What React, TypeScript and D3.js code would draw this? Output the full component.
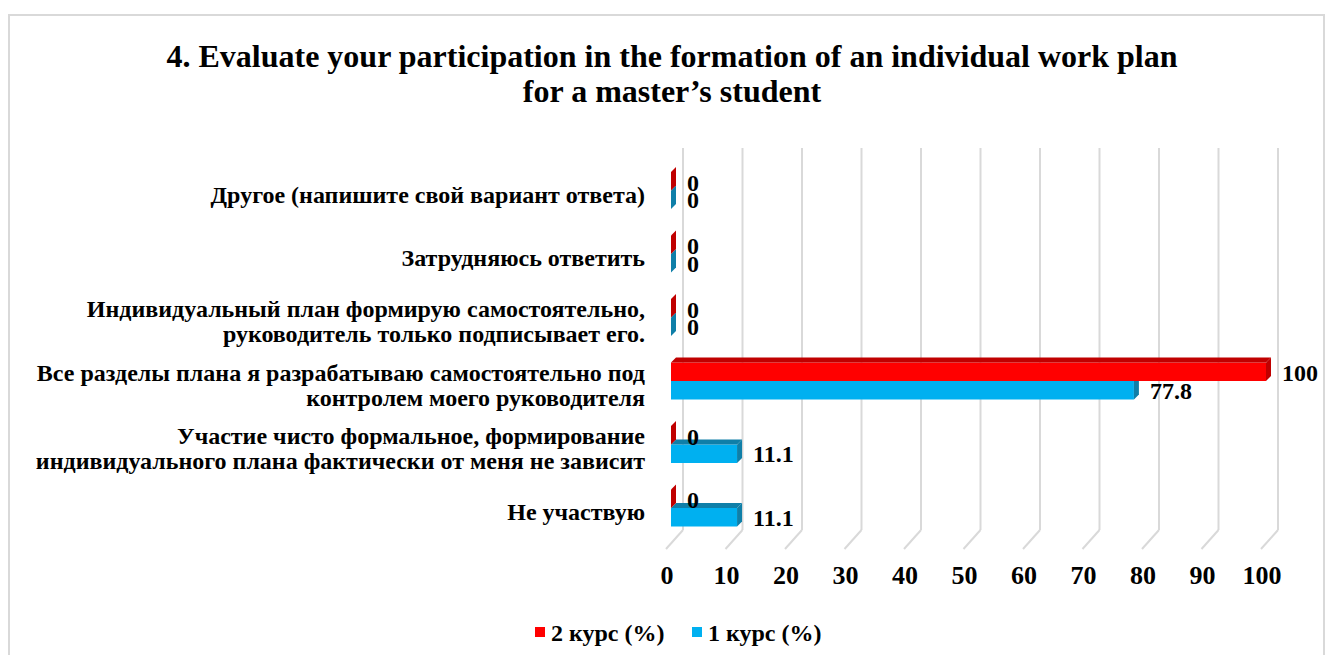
import React from "react";
import * as d3 from "d3";

const categories: string[][] = [
  ["Другое (напишите свой вариант ответа)"],
  ["Затрудняюсь ответить"],
  ["Индивидуальный план формирую самостоятельно,", "руководитель только подписывает его."],
  ["Все разделы плана я разрабатываю самостоятельно под", "контролем моего руководителя"],
  ["Участие чисто формальное, формирование", "индивидуального плана фактически от меня не зависит"],
  ["Не участвую"],
];
const course2: number[] = [0, 0, 0, 100, 0, 0];
const course1: number[] = [0, 0, 0, 77.8, 11.1, 11.1];
const ticks: number[] = [0, 10, 20, 30, 40, 50, 60, 70, 80, 90, 100];
const titleLines = ["4. Evaluate your participation in the formation of an individual work plan", "for a master’s student"];
const seriesNames = ["2 курс (%)", "1 курс (%)"];

const RED = "#FF0000";
const RED_DARK = "#C00000";
const BLUE = "#00B0F0";
const BLUE_DARK = "#0F7FA8";
const GRID = "#D9D9D9";
const FONT = "Liberation Serif";

export default function App() {
  const x = d3.scaleLinear().domain([0, 100]).range([671, 1266]);
  const y = d3.scalePoint<number>().domain(d3.range(categories.length)).range([190.5, 508]);
  const DX = 5, DY = 5;
  const barH = 18.5;
  const ts = (size: number) => ({ fontFamily: FONT, fontSize: size, fontWeight: 700 as const });

  const bar = (v: number, top: number, h: number, fill: string, dark: string, key: string) => {
    const x0 = x(0), x1 = x(v);
    return (
      <g key={key}>
        {v > 0 && <rect x={x0} y={top} width={x1 - x0} height={h} fill={fill} />}
        <polygon points={`${x0},${top} ${x0 + DX},${top - DY} ${x1 + DX},${top - DY} ${x1},${top}`} fill={dark} />
        <polygon points={`${x1},${top} ${x1 + DX},${top - DY} ${x1 + DX},${top + h - DY} ${x1},${top + h}`} fill={dark} />
      </g>
    );
  };

  return (
    <svg width={1325} height={655} style={{ position: "absolute", left: 0, top: 0, background: "#fff" }}>
      <rect x={9} y={15} width={1315} height={700} fill="#fff" stroke={GRID} strokeWidth={2} />
      {titleLines.map((t, i) => (
        <text key={i} x={672} y={67 + i * 35} textAnchor="middle" style={ts(32)}>{t}</text>
      ))}
      {ticks.map((t) => (
        <g key={t}>
          <line x1={x(t) + 12} x2={x(t) + 12} y1={148} y2={530} stroke={GRID} strokeWidth={2} />
          <line x1={x(t) + 12} x2={x(t) - 5} y1={530} y2={549} stroke={GRID} strokeWidth={2} />
          <text x={x(t) - 4} y={584} textAnchor="middle" style={ts(26)}>{t}</text>
        </g>
      ))}
      {categories.map((c, i) => {
        const cy = y(i)!;
        return (
          <g key={i}>
            {bar(course1[i], cy, barH, BLUE, BLUE_DARK, "b")}
            {bar(course2[i], cy - barH, barH, RED, RED_DARK, "r")}
            <text x={x(course2[i]) + DX + 11} y={cy} style={ts(24)}>{course2[i]}</text>
            <text x={x(course1[i]) + DX + 11} y={cy + 17.5} style={ts(24)}>{course1[i]}</text>
          </g>
        );
      })}
      {categories.map((c, i) => {
        const cy = y(i)! + 4;
        const lh = 25;
        const start = cy - ((c.length - 1) * lh) / 2;
        return (
          <text key={i} textAnchor="end" style={ts(24)}>
            {c.map((l, j) => (
              <tspan key={j} x={645} y={start + j * lh + 8}>{l}</tspan>
            ))}
          </text>
        );
      })}
      <rect x={535} y={627} width={10} height={10} fill={RED} />
      <text x={551} y={641} style={ts(24)}>{seriesNames[0]}</text>
      <rect x={692} y={627} width={10} height={10} fill={BLUE} />
      <text x={708} y={641} style={ts(24)}>{seriesNames[1]}</text>
    </svg>
  );
}
